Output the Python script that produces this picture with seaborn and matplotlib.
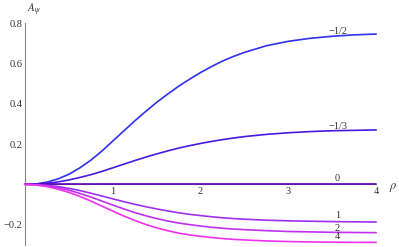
import numpy as np
import pandas as pd
import matplotlib
matplotlib.use("Agg")
import matplotlib.pyplot as plt
from matplotlib.ticker import FixedLocator
import seaborn as sns

sns.set_style("white")
plt.rcParams['font.family'] = ['Liberation Serif', 'DejaVu Serif']
plt.rcParams['mathtext.fontset'] = 'stix'

rho = [0, 0.125, 0.25, 0.375, 0.5, 0.625, 0.75, 0.875, 1.0, 1.125, 1.25, 1.375, 1.5,
       1.625, 1.75, 1.875, 2.0, 2.125, 2.25, 2.375, 2.5, 2.75, 3.0, 3.25, 3.5, 3.75, 4.0]
a_m12 = [0, 0.002, 0.011, 0.027, 0.05, 0.082, 0.12, 0.165, 0.215, 0.265, 0.315, 0.362, 0.407,
         0.448, 0.487, 0.522, 0.555, 0.585, 0.612, 0.635, 0.655, 0.688, 0.71, 0.725, 0.735, 0.742, 0.746]
a_m13 = [0, 0.001, 0.005, 0.012, 0.022, 0.034, 0.048, 0.064, 0.082, 0.1, 0.118, 0.135, 0.151,
         0.166, 0.18, 0.192, 0.203, 0.213, 0.222, 0.23, 0.237, 0.248, 0.256, 0.262, 0.266, 0.268, 0.27]
a_0 = [0] * 27
a_1 = [0, -0.001, -0.005, -0.011, -0.02, -0.031, -0.044, -0.058, -0.072, -0.086, -0.099, -0.111, -0.122,
       -0.132, -0.141, -0.149, -0.155, -0.161, -0.166, -0.17, -0.173, -0.178, -0.181, -0.183, -0.185, -0.186, -0.187]
a_2 = [0, -0.002, -0.008, -0.017, -0.029, -0.045, -0.063, -0.083, -0.103, -0.122, -0.14, -0.156, -0.17,
       -0.182, -0.192, -0.2, -0.207, -0.213, -0.218, -0.222, -0.225, -0.23, -0.234, -0.236, -0.238, -0.239, -0.24]
a_4 = [0, -0.003, -0.011, -0.024, -0.04, -0.06, -0.083, -0.108, -0.133, -0.157, -0.179, -0.199, -0.216,
       -0.23, -0.242, -0.251, -0.258, -0.264, -0.269, -0.273, -0.276, -0.281, -0.284, -0.286, -0.287, -0.288, -0.288]

labels = ["\u22121/2", "\u22121/3", "0", "1", "2", "4"]
series = [a_m12, a_m13, a_0, a_1, a_2, a_4]
colors = ["#3030f0", "#4a18e0", "#5a00b8", "#a030f0", "#c030f0", "#f030f0"]
label_y = [0.761, 0.289, 0.031, -0.157, -0.217, -0.26]

df = pd.DataFrame({
    "rho": np.tile(rho, len(labels)),
    "A": np.concatenate([np.array(s, float) for s in series]),
    "curve": np.repeat(labels, len(rho)),
})

fig = plt.figure(figsize=(3.99, 2.47), dpi=100)
ax = fig.add_axes([0, 0, 1, 1])
sns.lineplot(data=df, x="rho", y="A", hue="curve", hue_order=labels,
             palette=dict(zip(labels, colors)), legend=False, linewidth=1.2,
             ax=ax, zorder=3)

ax.set_xlim(-0.285, 4.26)
ax.set_ylim(-0.311, 0.915)
ax.set_xlabel("")
ax.set_ylabel("")

for s in ["top", "right"]:
    ax.spines[s].set_visible(False)
ax.spines["left"].set_position(("data", 0))
ax.spines["bottom"].set_position(("data", 0))
ax.spines["left"].set_bounds(-0.3, 0.8)
ax.spines["bottom"].set_bounds(0, 4)
for s in ["left", "bottom"]:
    ax.spines[s].set_color("#888888")
    ax.spines[s].set_linewidth(0.8)

ax.xaxis.set_major_locator(FixedLocator([1, 2, 3, 4]))
ax.xaxis.set_minor_locator(FixedLocator([0.2 * i for i in range(1, 20) if i % 5 != 0]))
ax.yaxis.set_major_locator(FixedLocator([-0.2, 0.2, 0.4, 0.6, 0.8]))
ax.yaxis.set_minor_locator(FixedLocator([0.05 * i for i in range(-6, 17) if i % 4 != 0]))
ax.tick_params(axis="both", which="major", direction="in", length=4, width=0.7,
               color="#888888", labelsize=7.5, labelcolor="#333333", pad=2)
ax.tick_params(axis="both", which="minor", direction="in", length=2, width=0.6,
               color="#888888")
ax.set_yticklabels(["\u22120.2", "0.2", "0.4", "0.6", "0.8"])
ax.set_xticklabels(["1", "2", "3", "4"])

for lab, ly in zip(labels, label_y):
    ax.text(3.56, ly, lab, fontsize=7.5, color="#333333", ha="center", va="center")

ax.text(4.19, -0.018, r"$\rho$", fontsize=9, color="#333333", ha="center", va="center")
ax.text(0.11, 0.865, r"$A_\psi$", fontsize=8, color="#333333", ha="center", va="center")

fig.savefig("out.png", dpi=100)
